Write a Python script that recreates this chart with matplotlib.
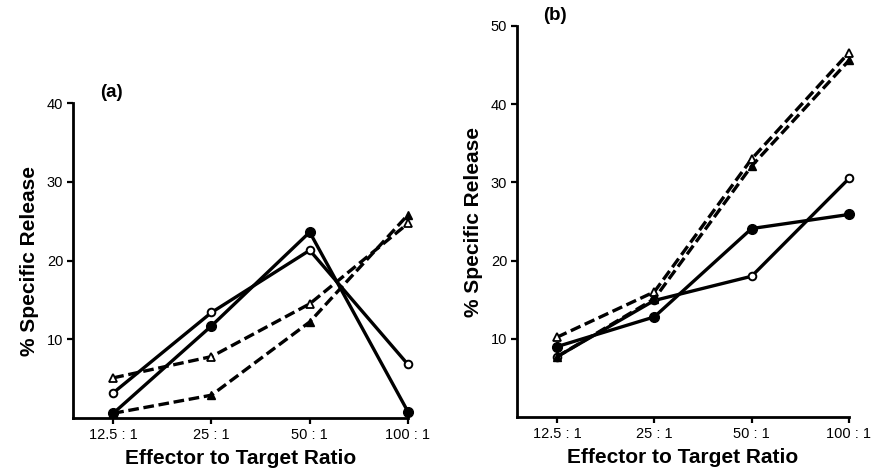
import matplotlib
matplotlib.use("Agg")
import matplotlib.pyplot as plt

ratios = ["12.5 : 1", "25 : 1", "50 : 1", "100 : 1"]

a_filled_circle = [0.6, 11.7, 23.6, 0.8]
a_open_circle = [3.2, 13.4, 21.3, 6.8]
a_open_tri = [5.1, 7.8, 14.5, 24.7]
a_filled_tri = [0.6, 2.9, 12.2, 25.8]

b_filled_circle = [9.0, 12.8, 24.1, 25.9]
b_open_circle = [7.7, 14.9, 18.0, 30.5]
b_open_tri = [10.2, 16.0, 33.0, 46.6]
b_filled_tri = [7.7, 15.1, 32.1, 45.6]

a_yticks = [10, 20, 30, 40]
b_yticks = [10, 20, 30, 40, 50]

plt.rcParams['font.family'] = ['Liberation Sans', 'DejaVu Sans']

fig = plt.figure(figsize=(8.73, 4.71), dpi=100)
ax_a = fig.add_axes([0.0836, 0.1125, 0.3837, 0.6688])
ax_b = fig.add_axes([0.5922, 0.1146, 0.3803, 0.8302])

x = list(range(len(ratios)))
lw = 2.4
dash = (0, (3.2, 1.4))


def draw(ax, fc, oc, ot, ft, ymax, yticks, letter, ly):
    ax.plot(x, fc, color='black', lw=lw, marker='o', ms=7, mfc='black', mec='black', clip_on=False, zorder=3)
    ax.plot(x, oc, color='black', lw=lw, marker='o', ms=5.5, mfc='white', mec='black', mew=1.4, clip_on=False, zorder=3)
    ax.plot(x, ot, color='black', lw=lw, ls=dash, marker='^', ms=5.5, mfc='white', mec='black', mew=1.3, clip_on=False, zorder=3)
    ax.plot(x, ft, color='black', lw=lw, ls=dash, marker='^', ms=5.5, mfc='black', mec='black', clip_on=False, zorder=3)
    ax.set_xlim(-0.41, 3.0)
    ax.set_ylim(0, ymax)
    ax.set_xticks(x)
    ax.set_xticklabels(ratios, fontsize=10.5)
    ax.set_yticks(yticks)
    ax.set_yticklabels([str(t) for t in yticks], fontsize=10.5)
    for s in ['top', 'right']:
        ax.spines[s].set_visible(False)
    for s in ['left', 'bottom']:
        ax.spines[s].set_linewidth(2.0)
    ax.tick_params(direction='out', length=4, width=1.6, pad=3)
    ax.set_xlabel("Effector to Target Ratio", fontsize=15, fontweight='bold', labelpad=5)
    ax.set_ylabel("% Specific Release", fontsize=15, fontweight='bold', labelpad=6)
    ax.text(0.08, ly, letter, transform=ax.transAxes, fontsize=13.5, fontweight='bold')


draw(ax_a, a_filled_circle, a_open_circle, a_open_tri, a_filled_tri, 40, a_yticks, "(a)", 1.02)
draw(ax_b, b_filled_circle, b_open_circle, b_open_tri, b_filled_tri, 50, b_yticks, "(b)", 1.015)

fig.savefig("out.png", dpi=100)
